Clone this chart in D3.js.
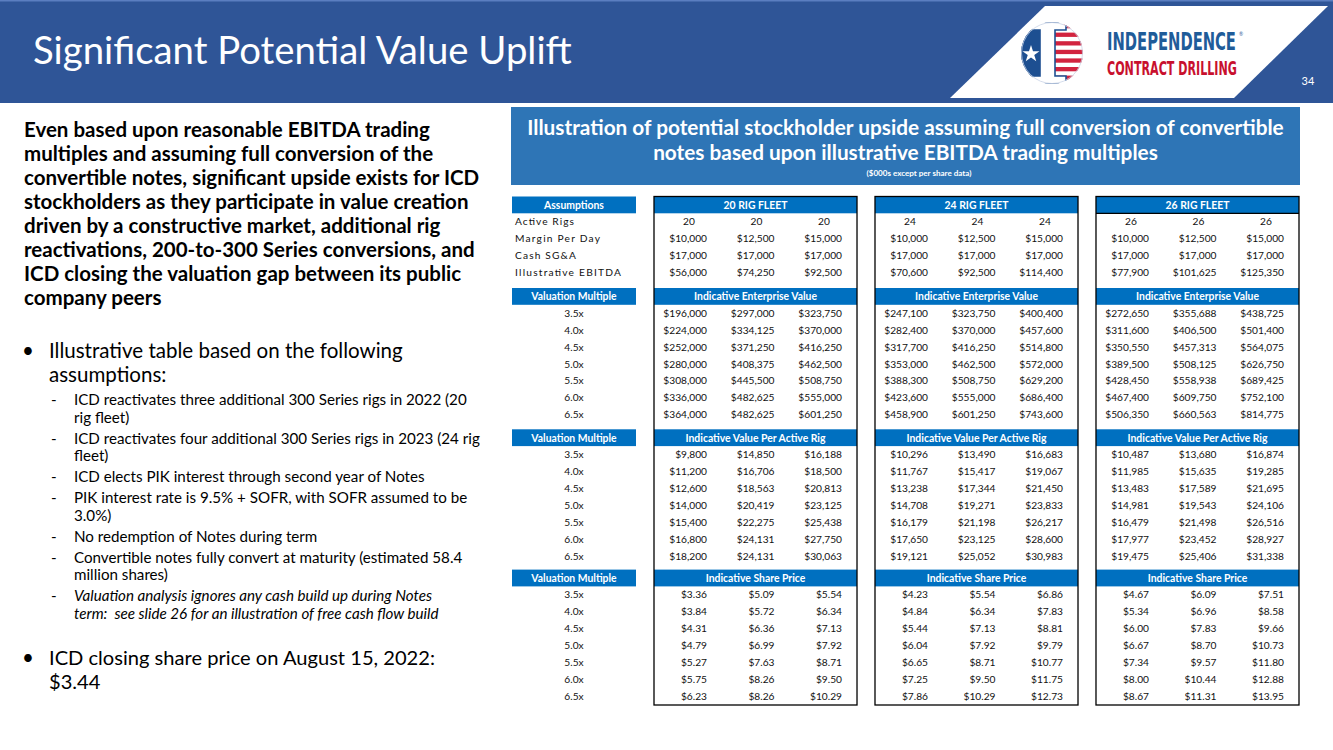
<!DOCTYPE html>
<html><head><meta charset="utf-8">
<script src="https://cdn.jsdelivr.net/npm/d3@7"></script>
<style>html,body{margin:0;padding:0;background:#fff;}svg{display:block;}</style>
</head><body>
<script>
// ---------------- DATA ----------------
const slideTitle = "Significant Potential Value Uplift";
const pageNumber = "34";
const introLines = [
  "Even based upon reasonable EBITDA trading",
  "multiples and assuming full conversion of the",
  "convertible notes, significant upside exists for ICD",
  "stockholders as they participate in value creation",
  "driven by a constructive market, additional rig",
  "reactivations, 200-to-300 Series conversions, and",
  "ICD closing the valuation gap between its public",
  "company peers"
];
const bullet1Lines = ["Illustrative table based on the following", "assumptions:"];
const subItems = [
  {lines:["ICD reactivates three additional 300 Series rigs in 2022 (20","rig fleet)"], italic:false},
  {lines:["ICD reactivates four additional 300 Series rigs in 2023 (24 rig","fleet)"], italic:false},
  {lines:["ICD elects PIK interest through second year of Notes"], italic:false},
  {lines:["PIK interest rate is 9.5% + SOFR, with SOFR assumed to be","3.0%)"], italic:false},
  {lines:["No redemption of Notes during term"], italic:false},
  {lines:["Convertible notes fully convert at maturity (estimated 58.4","million shares)"], italic:false},
  {lines:["Valuation analysis ignores any cash build up during Notes","term:  see slide 26 for an illustration of free cash flow build"], italic:true}
];
const bullet2Lines = ["ICD closing share price on August 15, 2022:", "$3.44"];
const tableTitleLines = [
  "Illustration of potential stockholder upside assuming full conversion of convertible",
  "notes based upon illustrative EBITDA trading multiples"
];
const tableSubtitle = "($000s except per share data)";

const fleets = ["20 RIG FLEET", "24 RIG FLEET", "26 RIG FLEET"];
const assumptionLabels = ["Active Rigs", "Margin Per Day", "Cash SG&A", "Illustrative EBITDA"];
const sectionTitles = ["Indicative Enterprise Value", "Indicative Value Per Active Rig", "Indicative Share Price"];
const multiples = [3.5, 4.0, 4.5, 5.0, 5.5, 6.0, 6.5];

const activeRigs   = [[20,20,20],[24,24,24],[26,26,26]];
const marginPerDay = [[10000,12500,15000],[10000,12500,15000],[10000,12500,15000]];
const cashSGA      = [[17000,17000,17000],[17000,17000,17000],[17000,17000,17000]];
const ebitda       = [[56000,74250,92500],[70600,92500,114400],[77900,101625,125350]];

const enterpriseValue = [
  [[196000,297000,323750],[224000,334125,370000],[252000,371250,416250],[280000,408375,462500],[308000,445500,508750],[336000,482625,555000],[364000,482625,601250]],
  [[247100,323750,400400],[282400,370000,457600],[317700,416250,514800],[353000,462500,572000],[388300,508750,629200],[423600,555000,686400],[458900,601250,743600]],
  [[272650,355688,438725],[311600,406500,501400],[350550,457313,564075],[389500,508125,626750],[428450,558938,689425],[467400,609750,752100],[506350,660563,814775]]
];
const valuePerRig = [
  [[9800,14850,16188],[11200,16706,18500],[12600,18563,20813],[14000,20419,23125],[15400,22275,25438],[16800,24131,27750],[18200,24131,30063]],
  [[10296,13490,16683],[11767,15417,19067],[13238,17344,21450],[14708,19271,23833],[16179,21198,26217],[17650,23125,28600],[19121,25052,30983]],
  [[10487,13680,16874],[11985,15635,19285],[13483,17589,21695],[14981,19543,24106],[16479,21498,26516],[17977,23452,28927],[19475,25406,31338]]
];
const sharePrice = [
  [[3.36,5.09,5.54],[3.84,5.72,6.34],[4.31,6.36,7.13],[4.79,6.99,7.92],[5.27,7.63,8.71],[5.75,8.26,9.50],[6.23,8.26,10.29]],
  [[4.23,5.54,6.86],[4.84,6.34,7.83],[5.44,7.13,8.81],[6.04,7.92,9.79],[6.65,8.71,10.77],[7.25,9.50,11.75],[7.86,10.29,12.73]],
  [[4.67,6.09,7.51],[5.34,6.96,8.58],[6.00,7.83,9.66],[6.67,8.70,10.73],[7.34,9.57,11.80],[8.00,10.44,12.88],[8.67,11.31,13.95]]
];

// ---------------- DRAWING ----------------
const W = 1333, H = 750;
const FONT = "Lato, 'Open Sans', sans-serif";
const svg = d3.select("body").append("svg").attr("width", W).attr("height", H);

function fit(sel, refNode, target) {
  const w = refNode.getComputedTextLength();
  const fs = parseFloat(d3.select(refNode).attr("font-size")) * target / w;
  sel.attr("font-size", fs);
}
function squeeze(x, y, txt, target, attrs) {
  const g = svg.append("g");
  const t = g.append("text").attr("x",0).attr("y",0).text(txt);
  Object.entries(attrs).forEach(([k,v])=>t.attr(k,v));
  const w = t.node().getComputedTextLength();
  g.attr("transform", `translate(${x},${y}) scale(${target/w},1)`);
  return g;
}

// Header band
svg.append("rect").attr("x",0).attr("y",0).attr("width",W).attr("height",103).attr("fill","#2F5597");
svg.append("rect").attr("x",0).attr("y",0).attr("width",W).attr("height",1.5).attr("fill","#5B7EC0");
// white parallelogram
svg.append("path").attr("d","M1045,6 L1328,6 L1234,98 L950,98 Z").attr("fill","#fff");

// Logo
const logo = svg.append("g").attr("transform","translate(1052,53)");
logo.append("clipPath").attr("id","logoClip").append("circle").attr("r",31);
const lg = logo.append("g").attr("clip-path","url(#logoClip)");
lg.append("circle").attr("r",31).attr("fill","#fff");
d3.range(7).forEach(i=>{
  lg.append("rect").attr("x",3).attr("y",-29 + i*8.6).attr("width",30).attr("height",4.3).attr("fill","#D2233F");
});
const Ipath = "M-20,-31 L14,-31 L14,-23 L3,-23 L3,23 L14,23 L14,31 L-20,31 L-20,23 L-12,23 L-12,-23 L-20,-23 Z";
lg.append("path").attr("d",Ipath).attr("fill","#fff").attr("stroke","#1D4F91").attr("stroke-width",1.6);
lg.append("rect").attr("x",-31).attr("y",-23).attr("width",19).attr("height",46).attr("fill","#1D4F91");
lg.append("rect").attr("x",-31).attr("y",-31).attr("width",11).attr("height",62).attr("fill","#1D4F91");
const star = d3.symbol().type(d3.symbolStar).size(90);
lg.append("path").attr("d",star()).attr("transform","translate(-21,1)").attr("fill","#fff");
logo.append("circle").attr("r",30.5).attr("fill","none").attr("stroke","#C9D3E6").attr("stroke-width",0.8);

const NARROW = "'Liberation Sans Narrow','Arial Narrow','DejaVu Sans Condensed',sans-serif";
squeeze(1107, 50, "INDEPENDENCE", 129, {"font-family":NARROW,"font-weight":"bold","font-size":24,"fill":"#1F5C99"});
svg.append("text").attr("x",1239).attr("y",36).text("®").attr("font-family",FONT).attr("font-size",5).attr("fill","#1F5C99");
squeeze(1107, 75, "CONTRACT DRILLING", 130, {"font-family":NARROW,"font-weight":"bold","font-size":20,"fill":"#C8102E"});

svg.append("text").attr("x",1308).attr("y",85).attr("text-anchor","middle").text(pageNumber)
  .attr("font-family",FONT).attr("font-size",11).attr("fill","#fff");

const title = svg.append("text").attr("x",33).attr("y",64).text(slideTitle)
  .attr("font-family",FONT).attr("font-size",36).attr("fill","#fff");
fit(title, title.node(), 539);

// Left intro paragraph
const intro = svg.append("g").selectAll("text").data(introLines).join("text")
  .attr("x",24).attr("y",(d,i)=>137 + i*24).text(d=>d)
  .attr("font-family",FONT).attr("font-weight","bold").attr("font-size",19).attr("fill","#000");
fit(intro, intro.nodes()[0], 406);

// Bullet 1
const b1 = svg.append("g").selectAll("text").data(bullet1Lines).join("text")
  .attr("x",49).attr("y",(d,i)=>358 + i*23.5).text(d=>d)
  .attr("font-family",FONT).attr("font-size",21).attr("fill","#000");
fit(b1, b1.nodes()[0], 354);
const bulletFS = parseFloat(b1.attr("font-size"));
svg.append("text").attr("x",28).attr("y",358).attr("text-anchor","middle").text("•")
  .attr("font-family",FONT).attr("font-size",bulletFS).attr("fill","#000");

// Sub items
const subLines = [];
let yy = 405;
subItems.forEach((it, k)=>{
  if (k>0) yy += 21;
  it.lines.forEach((ln, j)=>{
    if (j>0) yy += 17.6;
    subLines.push({text:ln, y:yy, italic:it.italic, first:j===0});
  });
});
const subG = svg.append("g");
const subT = subG.selectAll("text.sub").data(subLines).join("text").attr("class","sub")
  .attr("x",74).attr("y",d=>d.y).text(d=>d.text).style("white-space","pre")
  .attr("font-family",FONT).attr("font-size",15.5).attr("font-style",d=>d.italic?"italic":"normal").attr("fill","#000");
fit(subT, subT.nodes()[2], 406);
const subFS = parseFloat(subT.attr("font-size"));
subG.selectAll("text.dash").data(subLines.filter(d=>d.first)).join("text").attr("class","dash")
  .attr("x",51).attr("y",d=>d.y).text("-")
  .attr("font-family",FONT).attr("font-size",subFS).attr("fill","#000");

// Bullet 2
const b2 = svg.append("g").selectAll("text").data(bullet2Lines).join("text")
  .attr("x",49).attr("y",(d,i)=>665 + i*23.5).text(d=>d)
  .attr("font-family",FONT).attr("font-size",21).attr("fill","#000");
fit(b2, b2.nodes()[0], 386);
svg.append("text").attr("x",28).attr("y",665).attr("text-anchor","middle").text("•")
  .attr("font-family",FONT).attr("font-size",bulletFS).attr("fill","#000");

// Table title box
svg.append("rect").attr("x",511).attr("y",107).attr("width",789).attr("height",78).attr("fill","#2E75B6");
const tt = svg.append("g").selectAll("text").data(tableTitleLines).join("text")
  .attr("x",905.5).attr("y",(d,i)=>135 + i*25).attr("text-anchor","middle").text(d=>d)
  .attr("font-family",FONT).attr("font-weight","bold").attr("font-size",19).attr("fill","#fff");
fit(tt, tt.nodes()[0], 757);
const st = svg.append("text").attr("x",919).attr("y",176).attr("text-anchor","middle").text(tableSubtitle)
  .attr("font-family",FONT).attr("font-weight","bold").attr("font-size",9).attr("fill","#fff");
fit(st, st.node(), 105);

// Table scales
const HEAD_FILL = "#0070C0";
const fleetX = d3.scaleBand().domain(d3.range(fleets.length)).range([654, 1299]).paddingInner(0.0814);
const colRight = d3.scaleLinear().domain([0,2]).range([53, 188]);
const colCenter = d3.scaleLinear().domain([0,2]).range([35, 170]);
const labelX = d3.scaleBand().domain([0]).range([512, 636]);
const ROW_H = 16.9, HEAD_H = 16.8;
const topY = 196.5, boxBottom = 705;
const assumpRow = d3.scaleLinear().domain([0,1]).range([topY + HEAD_H, topY + HEAD_H + ROW_H]);
const sectionTop = d3.scaleOrdinal().domain([0,1,2]).range([288, 429.3, 569.6]);
const secRow = s => d3.scaleLinear().domain([0,1]).range([sectionTop(s)+HEAD_H, sectionTop(s)+HEAD_H+ROW_H]);
const VAL_FS = 10.2, HEAD_FS = 10.4, BASE_OFF = 3.6;
const money = d3.format("$,"), price = d3.format("$.2f"), intf = d3.format("d"), mult = d3.format(".1f");

const tbl = svg.append("g").attr("font-family",FONT);

// Left header boxes
const leftHeads = [{t:"Assumptions", y:topY}].concat(sectionTitles.map((s,i)=>({t:"Valuation Multiple", y:sectionTop(i)})));
tbl.selectAll("rect.lh").data(leftHeads).join("rect").attr("class","lh")
  .attr("x",labelX(0)).attr("y",d=>d.y).attr("width",labelX.bandwidth()).attr("height",HEAD_H).attr("fill",HEAD_FILL);
tbl.selectAll("text.lh").data(leftHeads).join("text").attr("class","lh")
  .attr("x",labelX(0)+labelX.bandwidth()/2).attr("y",d=>d.y+12.3).attr("text-anchor","middle").text(d=>d.t)
  .attr("font-weight","bold").attr("font-size",HEAD_FS).attr("fill","#fff");

// Assumption labels
const labelWidths = [59, 85, 61, 106];
tbl.selectAll("text.al").data(assumptionLabels).join("text").attr("class","al")
  .attr("x",515).attr("y",(d,i)=>assumpRow(i+0.5)+BASE_OFF).text(d=>d)
  .attr("font-size",VAL_FS).attr("fill","#111")
  .attr("textLength",(d,i)=>labelWidths[i]).attr("lengthAdjust","spacing");

// Multiple labels
sectionTitles.forEach((s, si)=>{
  const ry = secRow(si);
  tbl.append("g").selectAll("text").data(multiples).join("text")
    .attr("x",labelX(0)+labelX.bandwidth()/2).attr("y",(d,i)=>ry(i+0.5)+BASE_OFF).attr("text-anchor","middle")
    .text(d=>mult(d)+"x").attr("font-size",VAL_FS).attr("fill","#111");
});

// Fleet boxes
fleets.forEach((f, fi)=>{
  const x0 = fleetX(fi), bw = fleetX.bandwidth();
  const g = tbl.append("g");
  g.append("rect").attr("x",x0).attr("y",topY).attr("width",bw).attr("height",HEAD_H).attr("fill",HEAD_FILL);
  g.append("text").attr("x",x0+bw/2).attr("y",topY+12.3).attr("text-anchor","middle").text(f)
    .attr("font-weight","bold").attr("font-size",HEAD_FS).attr("fill","#fff");
  if (fi === 2) g.append("line").attr("x1",x0).attr("x2",x0+bw).attr("y1",topY+HEAD_H).attr("y2",topY+HEAD_H).attr("stroke","#000").attr("stroke-width",1.2);
  sectionTitles.forEach((s, si)=>{
    g.append("rect").attr("x",x0).attr("y",sectionTop(si)).attr("width",bw).attr("height",HEAD_H).attr("fill",HEAD_FILL);
    g.append("text").attr("x",x0+bw/2).attr("y",sectionTop(si)+12.3).attr("text-anchor","middle").text(s)
      .attr("font-weight","bold").attr("font-size",HEAD_FS).attr("fill","#fff");
  });
  const aRows = [
    {vals:activeRigs[fi], fmt:intf, center:true},
    {vals:marginPerDay[fi], fmt:money},
    {vals:cashSGA[fi], fmt:money},
    {vals:ebitda[fi], fmt:money}
  ];
  aRows.forEach((r, ri)=>{
    g.append("g").selectAll("text").data(r.vals).join("text")
      .attr("x",(d,ci)=> x0 + (r.center ? colCenter(ci) : colRight(ci)))
      .attr("y",assumpRow(ri+0.5)+BASE_OFF)
      .attr("text-anchor", r.center ? "middle" : "end")
      .text(d=>r.fmt(d)).attr("font-size",VAL_FS).attr("fill","#111");
  });
  const secData = [enterpriseValue[fi], valuePerRig[fi], sharePrice[fi]];
  const secFmt = [money, money, price];
  secData.forEach((rows, si)=>{
    const ry = secRow(si);
    rows.forEach((vals, ri)=>{
      g.append("g").selectAll("text").data(vals).join("text")
        .attr("x",(d,ci)=> x0 + colRight(ci)).attr("y",ry(ri+0.5)+BASE_OFF).attr("text-anchor","end")
        .text(d=>secFmt[si](d)).attr("font-size",VAL_FS).attr("fill","#111");
    });
  });
  g.append("rect").attr("x",x0).attr("y",topY).attr("width",bw).attr("height",boxBottom-topY)
    .attr("fill","none").attr("stroke","#000").attr("stroke-width",1.3);
});
</script>
</body></html>
